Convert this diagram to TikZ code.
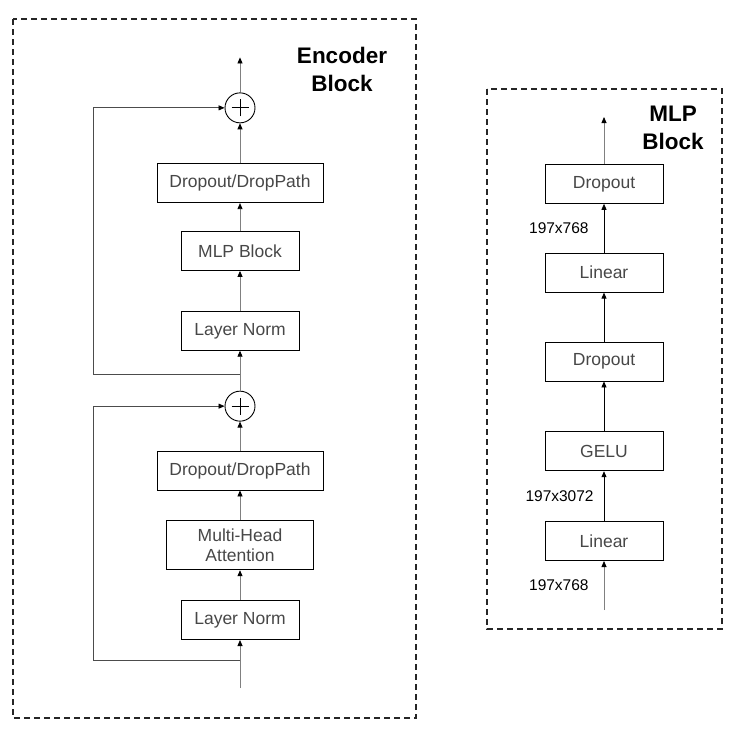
\documentclass[tikz,border=0pt]{standalone}
\usepackage{fontspec}
\setmainfont{Liberation Sans}
\usetikzlibrary{positioning,arrows.meta}

\begin{document}
\begin{tikzpicture}[
x=1pt, y=-1pt,
box/.style={draw=black, line width=0.8pt, minimum width=118pt, minimum height=39pt, inner sep=2pt, align=center, text=black!72, font=\fontsize{17.5}{20}\selectfont},
widebox/.style={box, minimum width=166pt},
oplus/.style={draw=black, line width=0.9pt, circle, minimum size=30pt, inner sep=0pt,
  path picture={\draw[line width=0.9pt] ([xshift=-8.5pt]path picture bounding box.center) -- ([xshift=8.5pt]path picture bounding box.center);
  \draw[line width=0.9pt] ([yshift=-8.5pt]path picture bounding box.center) -- ([yshift=8.5pt]path picture bounding box.center);}},
flow/.style={-{Triangle[length=6pt, width=5pt, color=black]}, line width=0.8pt, black!50},
skip/.style={flow, black!70},
frame/.style={draw=black!85, line width=1.2pt, dash pattern=on 6pt off 4pt},
title/.style={align=center, font=\fontsize{22.5}{28}\selectfont\bfseries},
dimlabel/.style={inner sep=0pt, text=black, font=\fontsize{15.5}{18}\selectfont}
]
\useasboundingbox (0,0) rectangle (735,744);

% frames
\draw[frame] (13,19) rectangle (416,718);
\draw[frame] (487,89) rectangle (722,629);
\node[title] (enctitle) at (342,69) {Encoder\\Block};
\node[title] (mlptitle) at (673,128) {MLP\\Block};

% encoder block
\coordinate (encin) at (240,688);
\node[box, above=48pt of encin] (ln1) {Layer Norm};
\node[box, minimum width=147pt, minimum height=49pt, above=30pt of ln1] (mha) {Multi-Head\\Attention};
\node[widebox, above=30pt of mha] (dd1) {Dropout/DropPath};
\node[oplus, above=29pt of dd1] (add1) {};
\node[box, above=40pt of add1] (ln2) {Layer Norm};
\node[box, above=40pt of ln2] (mlp) {MLP Block};
\node[widebox, above=28pt of mlp] (dd2) {Dropout/DropPath};
\node[oplus, above=40pt of dd2] (add2) {};
\coordinate[above=35pt of add2] (encout);
\coordinate (sk1) at (240,660);
\coordinate (sk2) at (240,374);

\draw[flow] (encin) -- (ln1);
\draw[flow] (ln1) -- (mha);
\draw[flow] (mha) -- (dd1);
\draw[flow] (dd1) -- (add1);
\draw[flow] (add1) -- (ln2);
\draw[flow] (ln2) -- (mlp);
\draw[flow] (mlp) -- (dd2);
\draw[flow] (dd2) -- (add2);
\draw[flow] (add2) -- (encout);
\draw[skip] (sk1) -- ++(-147,0) |- (add1);
\draw[skip] (sk2) -- ++(-147,0) |- (add2);

% mlp block
\coordinate (mlpin) at (604,610);
\node[box, above=49pt of mlpin] (lin1) {Linear};
\node[box, above=50pt of lin1] (gelu) {GELU};
\node[box, above=50pt of gelu] (drop1) {Dropout};
\node[box, above=49pt of drop1] (lin2) {Linear};
\node[box, above=49pt of lin2] (drop2) {Dropout};
\coordinate[above=47pt of drop2] (mlpout);

\draw[flow] (mlpin) -- node[dimlabel, left=15pt] (dim1) {197x768} (lin1);
\draw[flow, black] (lin1) -- node[dimlabel, left=10pt] (dim2) {197x3072} (gelu);
\draw[flow, black] (gelu) -- (drop1);
\draw[flow, black] (drop1) -- (lin2);
\draw[flow, black] (lin2) -- node[dimlabel, left=15pt] (dim3) {197x768} (drop2);
\draw[flow] (drop2) -- (mlpout);
\end{tikzpicture}
\end{document}
